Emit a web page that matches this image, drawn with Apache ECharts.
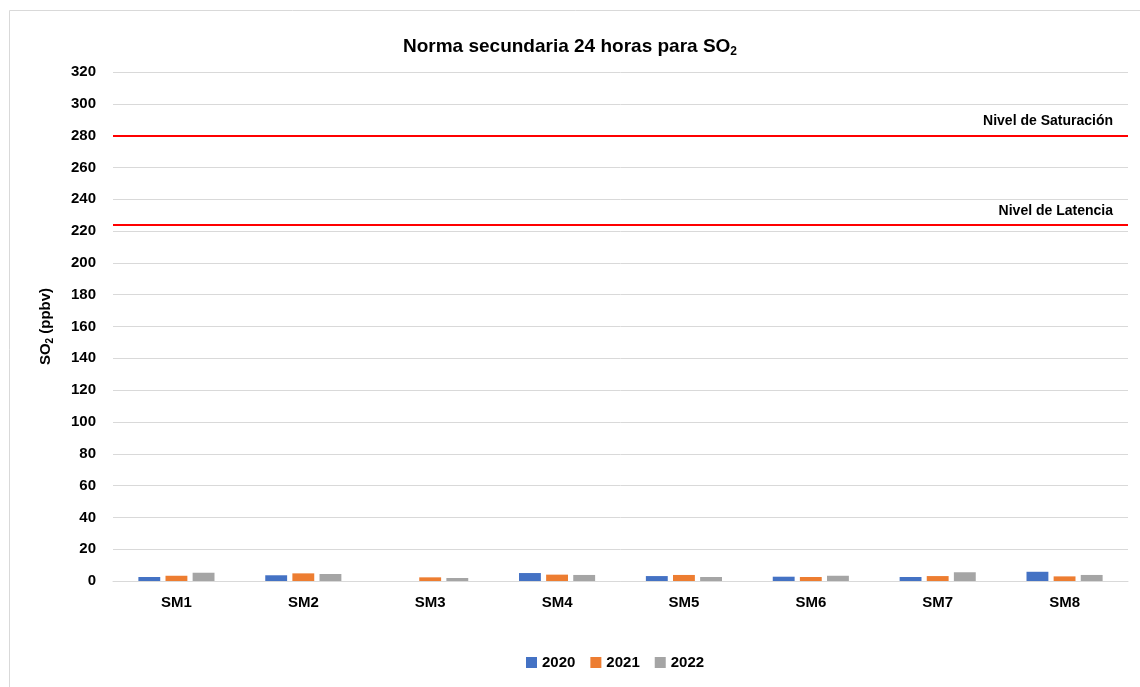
<!DOCTYPE html>
<html><head><meta charset="utf-8">
<script src="https://cdn.jsdelivr.net/npm/echarts@6/dist/echarts.min.js"></script>
<style>html,body{margin:0;padding:0;background:#fff}#c{width:1140px;height:687px}</style>
</head><body><div id="c"></div>
<script>
const categories = ['SM1','SM2','SM3','SM4','SM5','SM6','SM7','SM8'];
const years = ['2020','2021','2022'];
const s2020 = [2.5, 3.6, 0, 5.0, 3.1, 2.7, 2.5, 5.8];
const s2021 = [3.3, 4.8, 2.3, 4.0, 3.8, 2.5, 3.1, 2.9];
const s2022 = [5.2, 4.4, 1.9, 3.8, 2.5, 3.3, 5.5, 3.8];
const saturacion = 280;
const latencia = 224;
const yTicks = {min: 0, max: 320, interval: 20};

const FONT = 'Liberation Sans';
const colors = ['#4472C4', '#ED7D31', '#A5A5A5'];
const seriesData = [s2020, s2021, s2022];

const chart = echarts.init(document.getElementById('c'));
const series = years.map((y, i) => ({
  name: y, type: 'bar', data: seriesData[i],
  itemStyle: {color: colors[i]},
  barGap: '24%', barCategoryGap: '40%'
}));
series[0].markLine = {
  symbol: 'none', silent: true,
  lineStyle: {color: '#FF0000', width: 2, type: 'solid'},
  label: {show: true, position: 'insideEndTop', fontFamily: FONT, fontWeight: 'bold', fontSize: 14, color: '#000', distance: [15, 7]},
  data: [
    {yAxis: saturacion, label: {formatter: 'Nivel de Saturación'}},
    {yAxis: latencia, label: {formatter: 'Nivel de Latencia'}}
  ]
};
chart.setOption({
  animation: false,
  color: colors,
  title: {
    text: '{a|Norma secundaria 24 horas para SO}{s|2}',
    left: 'center', top: 30,
    textStyle: {rich: {
      a: {fontFamily: FONT, fontWeight: 'bold', fontSize: 19, color: '#000'},
      s: {fontFamily: FONT, fontWeight: 'bold', fontSize: 12, color: '#000', padding: [11, 0, 0, 0]}
    }}
  },
  graphic: [{type: 'rect', shape: {x: 9.5, y: 10.5, width: 1140, height: 700}, style: {fill: 'none', stroke: '#d9d9d9', lineWidth: 1}, silent: true}],
  legend: {
    data: years, bottom: 12, left: 521, itemWidth: 11, itemHeight: 11, itemGap: 15,
    icon: 'rect',
    textStyle: {fontFamily: FONT, fontWeight: 'bold', fontSize: 15, color: '#000'}
  },
  grid: {left: 113, right: 12, top: 72, bottom: 106},
  xAxis: {
    type: 'category', data: categories,
    axisLine: {lineStyle: {color: '#d9d9d9'}},
    axisTick: {show: false},
    axisLabel: {fontFamily: FONT, fontWeight: 'bold', fontSize: 15, color: '#000', margin: 14}
  },
  yAxis: {
    type: 'value', min: yTicks.min, max: yTicks.max, interval: yTicks.interval,
    name: '{a|SO}{s|2}{a| (ppbv)}', nameLocation: 'middle', nameGap: 58, nameRotate: 90,
    nameTextStyle: {rich: {
      a: {fontFamily: FONT, fontWeight: 'bold', fontSize: 15, color: '#000'},
      s: {fontFamily: FONT, fontWeight: 'bold', fontSize: 10, color: '#000', padding: [8, 0, 0, 0]}
    }},
    axisLine: {show: false}, axisTick: {show: false},
    splitLine: {lineStyle: {color: '#d9d9d9'}},
    axisLabel: {fontFamily: FONT, fontWeight: 'bold', fontSize: 15, color: '#000', margin: 17}
  },
  series: series
});
</script></body></html>
